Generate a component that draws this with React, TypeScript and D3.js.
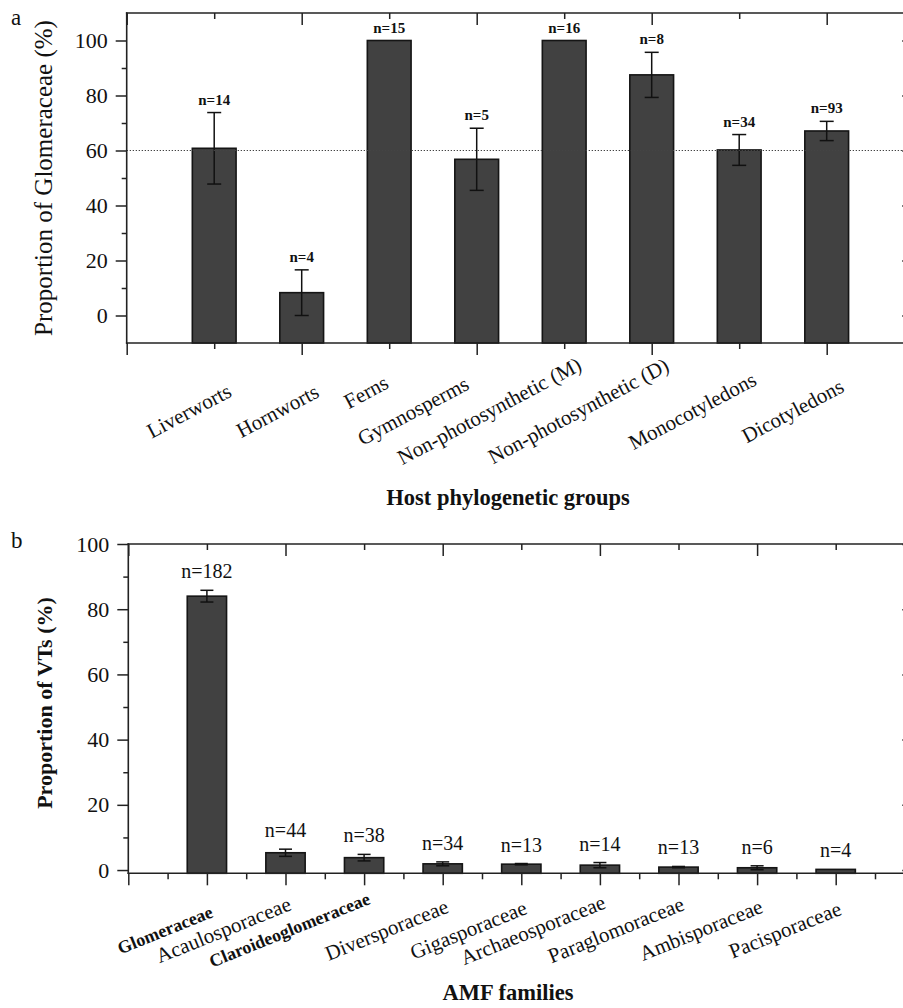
import React, { useEffect, useRef } from 'react';
import * as d3 from 'd3';

const FONT = "'Liberation Serif', 'Times New Roman', Times, serif";
const STROKE = '#222';
const BAR_FILL = '#414141';

// ---------- Panel a data ----------
const hostGroups = [
  'Liverworts',
  'Hornworts',
  'Ferns',
  'Gymnosperms',
  'Non-photosynthetic (M)',
  'Non-photosynthetic (D)',
  'Monocotyledons',
  'Dicotyledons',
];
const glomProportion = [60.8, 8.3, 100, 56.8, 100, 87.5, 60.2, 67.1];
const glomError = [13.0, 8.3, 0, 11.3, 0, 8.2, 5.6, 3.5];
const hostN = [14, 4, 15, 5, 16, 8, 34, 93];
const referenceLevelA = 60;
const yTicksA = [0, 20, 40, 60, 80, 100];
const yMinorA = [10, 30, 50, 70, 90];

// ---------- Panel b data ----------
const amfFamilies = [
  'Glomeraceae',
  'Acaulosporaceae',
  'Claroideoglomeraceae',
  'Diversporaceae',
  'Gigasporaceae',
  'Archaeosporaceae',
  'Paraglomoraceae',
  'Ambisporaceae',
  'Pacisporaceae',
];
const vtProportion = [84.0, 5.3, 3.8, 1.9, 1.8, 1.5, 0.9, 0.7, 0.2];
const vtError = [1.8, 1.1, 1.0, 0.6, 0.2, 0.8, 0.2, 0.6, 0];
const amfN = [182, 44, 38, 34, 13, 14, 13, 6, 4];
const boldFamilies = ['Glomeraceae', 'Claroideoglomeraceae'];
const yTicksB = [0, 20, 40, 60, 80, 100];
const yMinorB = [10, 30, 50, 70, 90];

// layout: manual nudges of a few rotated category labels in panel a (as in the original figure)
const hostLabelNudge: Record<string, [number, number]> = {
  Ferns: [-18, -19],
  Gymnosperms: [-25, 0],
};

type Sel = d3.Selection<SVGGElement, unknown, null, undefined>;

function styleAxis(ga: Sel, withText: boolean) {
  ga.select('.domain').remove();
  ga.selectAll('line').attr('stroke', STROKE).attr('stroke-width', 1.5);
  if (withText) {
    ga.selectAll('text')
      .attr('font-family', FONT)
      .attr('font-size', 22)
      .attr('fill', '#111');
  } else {
    ga.selectAll('text').remove();
  }
}

function drawFrame(
  g: Sel,
  x: d3.ScaleLinear<number, number>,
  y: d3.ScaleLinear<number, number>,
  xMax: number,
  yTicks: number[],
  yMinor: number[],
  bottomMajor: number[],
  bottomMinor: number[],
  topMajor: number[],
  topMinor: number[]
) {
  const x0 = x(0);
  const x1 = x(xMax);
  const [yb, yt] = y.range();

  const gl = g.append('g').attr('transform', `translate(${x0},0)`)
    .call(d3.axisLeft(y).tickValues(yTicks).tickSize(11).tickPadding(8).tickFormat(d3.format('d')) as any);
  styleAxis(gl, true);
  const glm = g.append('g').attr('transform', `translate(${x0},0)`)
    .call(d3.axisLeft(y).tickValues(yMinor).tickSize(5) as any);
  styleAxis(glm, false);

  const gr = g.append('g').attr('transform', `translate(${x1},0)`)
    .call(d3.axisLeft(y).tickValues(yTicks).tickSize(12) as any);
  styleAxis(gr, false);
  const grm = g.append('g').attr('transform', `translate(${x1},0)`)
    .call(d3.axisLeft(y).tickValues(yMinor).tickSize(6) as any);
  styleAxis(grm, false);

  const gb = g.append('g').attr('transform', `translate(0,${yb})`)
    .call(d3.axisBottom(x).tickValues(bottomMajor).tickSize(12) as any);
  styleAxis(gb, false);
  const gbm = g.append('g').attr('transform', `translate(0,${yb})`)
    .call(d3.axisBottom(x).tickValues(bottomMinor).tickSize(6) as any);
  styleAxis(gbm, false);

  const gt = g.append('g').attr('transform', `translate(0,${yt})`)
    .call(d3.axisBottom(x).tickValues(topMajor).tickSize(12) as any);
  styleAxis(gt, false);
  const gtm = g.append('g').attr('transform', `translate(0,${yt})`)
    .call(d3.axisBottom(x).tickValues(topMinor).tickSize(6) as any);
  styleAxis(gtm, false);

  const lines: [number, number, number, number][] = [
    [x0, yt, x1, yt],
    [x0, yb, x1, yb],
    [x0, yt, x0, yb],
    [x1, yt, x1, yb],
  ];
  lines.forEach(([a, b, c, d]) => {
    g.append('line')
      .attr('x1', a).attr('y1', b).attr('x2', c).attr('y2', d)
      .attr('stroke', STROKE).attr('stroke-width', 1.6)
      .attr('stroke-linecap', 'square');
  });
}

function drawBars(
  g: Sel,
  x: d3.ScaleLinear<number, number>,
  y: d3.ScaleLinear<number, number>,
  values: number[],
  errors: number[],
  capHalf: number
) {
  const yb = y.range()[0];
  const bw = x(0.5) - x(0);
  values.forEach((v, i) => {
    const cx = x(i + 1);
    g.append('rect')
      .attr('x', cx - bw / 2)
      .attr('y', y(v))
      .attr('width', bw)
      .attr('height', yb - y(v))
      .attr('fill', BAR_FILL)
      .attr('stroke', '#151515')
      .attr('stroke-width', 1.6);
  });
  values.forEach((v, i) => {
    const e = errors[i];
    if (!e) return;
    const cx = x(i + 1);
    const yTop = y(v + e);
    const yBot = y(v - e);
    const eg = g.append('g').attr('stroke', '#111').attr('stroke-width', 1.5);
    eg.append('line').attr('x1', cx).attr('x2', cx).attr('y1', yTop).attr('y2', yBot);
    eg.append('line').attr('x1', cx - capHalf).attr('x2', cx + capHalf).attr('y1', yTop).attr('y2', yTop);
    eg.append('line').attr('x1', cx - capHalf).attr('x2', cx + capHalf).attr('y1', yBot).attr('y2', yBot);
  });
}

function drawNLabels(
  g: Sel,
  x: d3.ScaleLinear<number, number>,
  y: d3.ScaleLinear<number, number>,
  values: number[],
  errors: number[],
  ns: number[],
  fontSize: number,
  weight: string,
  gap: number
) {
  values.forEach((v, i) => {
    g.append('text')
      .attr('x', x(i + 1))
      .attr('y', y(v + errors[i]) - gap)
      .attr('text-anchor', 'middle')
      .attr('font-family', FONT)
      .attr('font-size', fontSize)
      .attr('font-weight', weight)
      .attr('fill', '#111')
      .text(`n=${ns[i]}`);
  });
}

function drawXLabels(
  g: Sel,
  x: d3.ScaleLinear<number, number>,
  cats: string[],
  angle: number,
  size: number,
  boldSize: number,
  boldSet: string[],
  rightOffset: number,
  centerY: number,
  nudge: Record<string, [number, number]>
) {
  const th = (angle * Math.PI) / 180;
  cats.forEach((c, i) => {
    const bold = boldSet.includes(c);
    const fs = bold ? boldSize : size;
    const t = g.append('text')
      .text(c)
      .attr('font-family', FONT)
      .attr('font-size', fs)
      .attr('font-weight', bold ? 'bold' : 'normal')
      .attr('fill', '#111')
      .attr('text-anchor', 'middle')
      .attr('dominant-baseline', 'central');
    const L = (t.node() as SVGTextElement).getComputedTextLength();
    const W = L * Math.cos(th) + 0.9 * fs * Math.sin(th);
    const [ndx, ndy] = nudge[c] || [0, 0];
    const cx = x(i + 1) + rightOffset - W / 2 + ndx;
    t.attr('transform', `translate(${cx},${centerY + ndy}) rotate(${-angle})`);
  });
}

function drawPanelA(svg: d3.Selection<SVGSVGElement, unknown, null, undefined>) {
  const g = svg.append('g') as unknown as Sel;
  const xMax = 9;
  const x = d3.scaleLinear().domain([0, xMax]).range([126.7, 914.2]);
  const y = d3.scaleLinear().domain([-10, 110]).range([343, 13]);

  drawBars(g, x, y, glomProportion, glomError, 7);

  g.append('line')
    .attr('x1', x(0)).attr('x2', 903)
    .attr('y1', y(referenceLevelA)).attr('y2', y(referenceLevelA))
    .attr('stroke', '#444').attr('stroke-width', 1.2)
    .attr('stroke-dasharray', '1.3,1.7');

  const ints = d3.range(0, xMax + 1);
  drawFrame(
    g, x, y, xMax, yTicksA, yMinorA,
    ints.filter((d) => d % 2 === 0), ints.filter((d) => d % 2 === 1),
    ints.filter((d) => d % 2 === 0), ints.filter((d) => d % 2 === 1)
  );

  drawNLabels(g, x, y, glomProportion, glomError, hostN, 15, 'bold', 8);
  drawXLabels(g, x, hostGroups, 28, 21, 21, [], 20, 411, hostLabelNudge);

  g.append('text')
    .attr('transform', 'translate(51.7,178) rotate(-90)')
    .attr('text-anchor', 'middle')
    .attr('font-family', FONT).attr('font-size', 25).attr('fill', '#111')
    .text('Proportion of Glomeraceae (%)');

  g.append('text')
    .attr('x', 508).attr('y', 505)
    .attr('text-anchor', 'middle')
    .attr('font-family', FONT).attr('font-size', 22.5).attr('font-weight', 'bold').attr('fill', '#111')
    .text('Host phylogenetic groups');

  g.append('text')
    .attr('x', 11).attr('y', 25)
    .attr('font-family', FONT).attr('font-size', 23).attr('fill', '#111')
    .text('a');
}

function drawPanelB(svg: d3.Selection<SVGSVGElement, unknown, null, undefined>) {
  const g = svg.append('g') as unknown as Sel;
  const xMax = 10;
  const x = d3.scaleLinear().domain([0, xMax]).range([128.3, 914.3]);
  const y = d3.scaleLinear().domain([-1, 100]).range([873.3, 544]);

  drawBars(g, x, y, vtProportion, vtError, 6.5);

  const ints = d3.range(0, xMax + 1);
  const halves = d3.range(0, xMax).map((d) => d + 0.5);
  drawFrame(
    g, x, y, xMax, yTicksB, yMinorB,
    ints, halves,
    ints.filter((d) => d % 2 === 0), ints.filter((d) => d % 2 === 1)
  );

  drawNLabels(g, x, y, vtProportion, vtError, amfN, 20, 'normal', 12);
  drawXLabels(g, x, amfFamilies, 22, 21, 18, boldFamilies, 8, 930, {});

  g.append('text')
    .attr('transform', 'translate(52,703) rotate(-90)')
    .attr('text-anchor', 'middle')
    .attr('font-family', FONT).attr('font-size', 22).attr('font-weight', 'bold').attr('fill', '#111')
    .text('Proportion of VTs (%)');

  g.append('text')
    .attr('x', 508).attr('y', 1000)
    .attr('text-anchor', 'middle')
    .attr('font-family', FONT).attr('font-size', 22.5).attr('font-weight', 'bold').attr('fill', '#111')
    .text('AMF families');

  g.append('text')
    .attr('x', 11).attr('y', 548)
    .attr('font-family', FONT).attr('font-size', 23).attr('fill', '#111')
    .text('b');
}

export default function App() {
  const ref = useRef<SVGSVGElement>(null);
  useEffect(() => {
    if (!ref.current) return;
    const svg = d3.select(ref.current);
    svg.selectAll('*').remove();
    drawPanelA(svg);
    drawPanelB(svg);
  }, []);
  return (
    <svg
      ref={ref}
      width={903}
      height={1008}
      style={{ position: 'absolute', left: 0, top: 0, background: '#fff' }}
    />
  );
}
